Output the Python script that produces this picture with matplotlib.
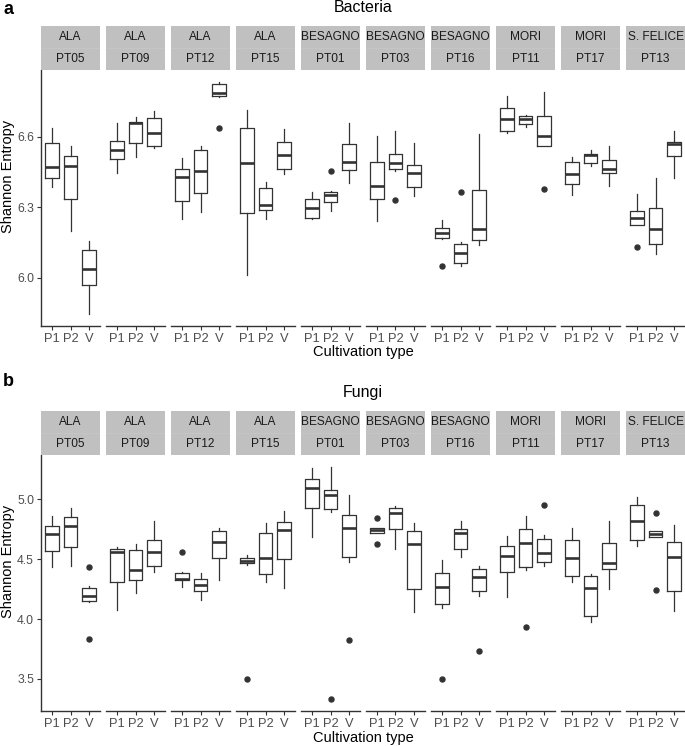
import matplotlib
matplotlib.use("Agg")
import matplotlib.pyplot as plt
from matplotlib.patches import Rectangle

plt.rcParams['font.family'] = ['Liberation Sans', 'DejaVu Sans']

regions = ["ALA", "ALA", "ALA", "ALA", "BESAGNO", "BESAGNO", "BESAGNO", "MORI", "MORI", "S. FELICE"]
sites = ["PT05", "PT09", "PT12", "PT15", "PT01", "PT03", "PT16", "PT11", "PT17", "PT13"]
cultivation = ["P1", "P2", "V"]

# Bacteria: per facet, per cultivation type (P1, P2, V)
bac_whislo = [[6.385, 6.198, 5.845], [6.448, 6.513, 6.552], [6.249, 6.279, 6.770], [6.014, 6.250, 6.441],
              [6.249, 6.284, 6.404], [6.243, 6.456, 6.350], [6.165, 6.050, 6.142], [6.618, 6.641, 6.562],
              [6.353, 6.478, 6.390], [6.225, 6.101, 6.424]]
bac_q1 = [[6.427, 6.335, 5.971], [6.506, 6.576, 6.563], [6.327, 6.360, 6.773], [6.277, 6.289, 6.463],
          [6.256, 6.324, 6.461], [6.337, 6.463, 6.387], [6.168, 6.064, 6.161], [6.624, 6.655, 6.563],
          [6.398, 6.488, 6.448], [6.227, 6.146, 6.518]]
bac_med = [[6.473, 6.478, 6.038], [6.543, 6.661, 6.618], [6.431, 6.455, 6.785], [6.488, 6.311, 6.523],
           [6.296, 6.354, 6.493], [6.392, 6.489, 6.446], [6.189, 6.104, 6.208], [6.678, 6.677, 6.604],
           [6.441, 6.522, 6.463], [6.254, 6.208, 6.570]]
bac_q3 = [[6.576, 6.520, 6.119], [6.583, 6.664, 6.680], [6.462, 6.546, 6.825], [6.637, 6.381, 6.577],
          [6.337, 6.367, 6.569], [6.495, 6.529, 6.479], [6.213, 6.145, 6.372], [6.722, 6.688, 6.687],
          [6.492, 6.527, 6.503], [6.284, 6.297, 6.580]]
bac_whishi = [[6.637, 6.563, 6.155], [6.658, 6.685, 6.712], [6.509, 6.562, 6.835], [6.715, 6.409, 6.633],
              [6.364, 6.370, 6.660], [6.604, 6.623, 6.573], [6.245, 6.153, 6.611], [6.773, 6.692, 6.791],
              [6.515, 6.543, 6.563], [6.357, 6.425, 6.624]]
bac_fliers = [[[], [], []], [[], [], []], [[], [], [6.638]], [[], [], []],
              [[], [6.454], []], [[], [6.331], []], [[6.051], [6.364], []], [[], [], [6.377]],
              [[], [], []], [[6.131], [], []]]

# Fungi
fun_whislo = [[4.437, 4.443, 4.139], [4.075, 4.220, 4.396], [4.265, 4.159, 4.326], [4.455, 4.306, 4.262],
              [4.688, 4.897, 4.474], [4.721, 4.588, 4.056], [4.092, 4.521, 4.192], [4.181, 4.412, 4.440],
              [4.306, 3.972, 4.253], [4.613, 4.688, 4.070]]
fun_q1 = [[4.568, 4.602, 4.150], [4.306, 4.323, 4.446], [4.323, 4.237, 4.513], [4.465, 4.373, 4.504],
          [4.930, 4.916, 4.521], [4.721, 4.749, 4.251], [4.123, 4.585, 4.231], [4.390, 4.437, 4.474],
          [4.362, 4.028, 4.418], [4.657, 4.688, 4.231]]
fun_med = [[4.713, 4.774, 4.189], [4.560, 4.409, 4.563], [4.334, 4.284, 4.641], [4.487, 4.513, 4.744],
           [5.095, 5.033, 4.763], [4.741, 4.883, 4.630], [4.270, 4.721, 4.354], [4.524, 4.638, 4.554],
           [4.513, 4.262, 4.471], [4.819, 4.713, 4.518]]
fun_q3 = [[4.780, 4.850, 4.256], [4.582, 4.577, 4.663], [4.387, 4.331, 4.738], [4.510, 4.719, 4.813],
          [5.173, 5.078, 4.866], [4.760, 4.930, 4.733], [4.384, 4.749, 4.418], [4.610, 4.749, 4.666],
          [4.663, 4.357, 4.638], [4.955, 4.733, 4.643]]
fun_whishi = [[4.861, 4.928, 4.273], [4.604, 4.624, 4.819], [4.390, 4.382, 4.758], [4.532, 4.799, 4.900],
              [5.259, 5.273, 5.039], [4.760, 4.944, 4.799], [4.490, 4.816, 4.443], [4.694, 4.861, 4.699],
              [4.760, 4.373, 4.816], [5.019, 4.733, 4.783]]
fun_fliers = [[[], [], [4.437, 3.836]], [[], [], []], [[4.560], [], []], [[3.496], [], []],
              [[], [3.329], [3.827]], [[4.847, 4.627], [], []], [[3.496], [], [3.735]], [[], [3.933], [4.955]],
              [[], [], []], [[], [4.883, 4.240], []]]

W, H = 685, 746
fig = plt.figure(figsize=(W / 100, H / 100), dpi=100)

def fx(x):
    return x / W

def fy(y):
    return 1 - y / H

GREY20 = "#333333"
GREY30 = "#4d4d4d"
STRIP = "#c0c0c0"


def draw_panel(letter, title, ytop_strip, ytop, ybot, whislo, q1, med, q3, whishi, fliers, yticks, title_y, letter_y, xlab_y):
    allvals = []
    for i in range(10):
        for j in range(3):
            allvals += [whislo[i][j], whishi[i][j]] + list(fliers[i][j])
    lo, hi = min(allvals), max(allvals)
    pad = 0.05 * (hi - lo)
    ylim = (lo - pad, hi + pad)
    for i in range(10):
        x0 = 41 + i * 65
        pw = 59
        ax = fig.add_axes([fx(x0), fy(ybot), pw / W, (ybot - ytop) / H])
        stats = []
        for j in range(3):
            stats.append(dict(whislo=whislo[i][j], q1=q1[i][j], med=med[i][j], q3=q3[i][j],
                              whishi=whishi[i][j], fliers=fliers[i][j], label=cultivation[j]))
        ax.bxp(stats, positions=[1, 2, 3], widths=0.75, showcaps=False, patch_artist=False,
               boxprops=dict(color=GREY20, linewidth=0.9),
               whiskerprops=dict(color=GREY20, linewidth=0.9),
               medianprops=dict(color=GREY20, linewidth=1.9),
               flierprops=dict(marker='o', markersize=3.6, markerfacecolor=GREY20,
                               markeredgecolor=GREY20, linestyle='none'))
        ax.set_xlim(0.4, 3.6)
        ax.set_ylim(*ylim)
        for s in ['top', 'right']:
            ax.spines[s].set_visible(False)
        ax.spines['bottom'].set_color(GREY20)
        ax.spines['bottom'].set_linewidth(1.0)
        ax.tick_params(axis='x', length=3, width=0.8, color=GREY20, labelsize=9.3,
                       labelcolor=GREY30, pad=2)
        if i == 0:
            ax.spines['left'].set_color(GREY20)
            ax.spines['left'].set_linewidth(1.0)
            ax.set_yticks(yticks)
            ax.set_yticklabels([f"{t:.1f}" for t in yticks])
            ax.tick_params(axis='y', length=3, width=0.8, color=GREY20, labelsize=8.8,
                           labelcolor=GREY30, pad=2)
        else:
            ax.spines['left'].set_visible(False)
            ax.set_yticks([])
        ax.set_facecolor('white')
        # strip
        sh = ytop - ytop_strip
        sax = fig.add_axes([fx(x0), fy(ytop), pw / W, sh / H])
        sax.set_xlim(0, 1)
        sax.set_ylim(0, 1)
        sax.axis('off')
        sax.add_patch(Rectangle((0, 0), 1, 1, facecolor=STRIP, edgecolor='none'))
        sax.axhline(0.5, color='#c8c8c8', linewidth=0.5)
        sax.text(0.5, 0.75, regions[i], ha='center', va='center', fontsize=8.6, color='#1a1a1a')
        sax.text(0.5, 0.25, sites[i], ha='center', va='center', fontsize=8.6, color='#1a1a1a')
    fig.text(fx(3), fy(letter_y), letter, fontsize=13, fontweight='bold', ha='left', va='center')
    fig.text(fx(363), fy(title_y), title, fontsize=11.5, ha='center', va='center')
    fig.text(fx(8), fy((ytop_strip + ybot) / 2), "Shannon Entropy", fontsize=10.5,
             rotation=90, ha='center', va='center')
    fig.text(fx(363), fy(xlab_y), "Cultivation type", fontsize=10.5, ha='center', va='center')


draw_panel("a", "Bacteria", 26, 70, 326, bac_whislo, bac_q1, bac_med, bac_q3, bac_whishi, bac_fliers,
           [6.0, 6.3, 6.6], 8, 9, 352)
draw_panel("b", "Fungi", 411, 455, 711, fun_whislo, fun_q1, fun_med, fun_q3, fun_whishi, fun_fliers,
           [3.5, 4.0, 4.5, 5.0], 393, 381, 738)

fig.savefig("out.png", dpi=100, facecolor='white')
